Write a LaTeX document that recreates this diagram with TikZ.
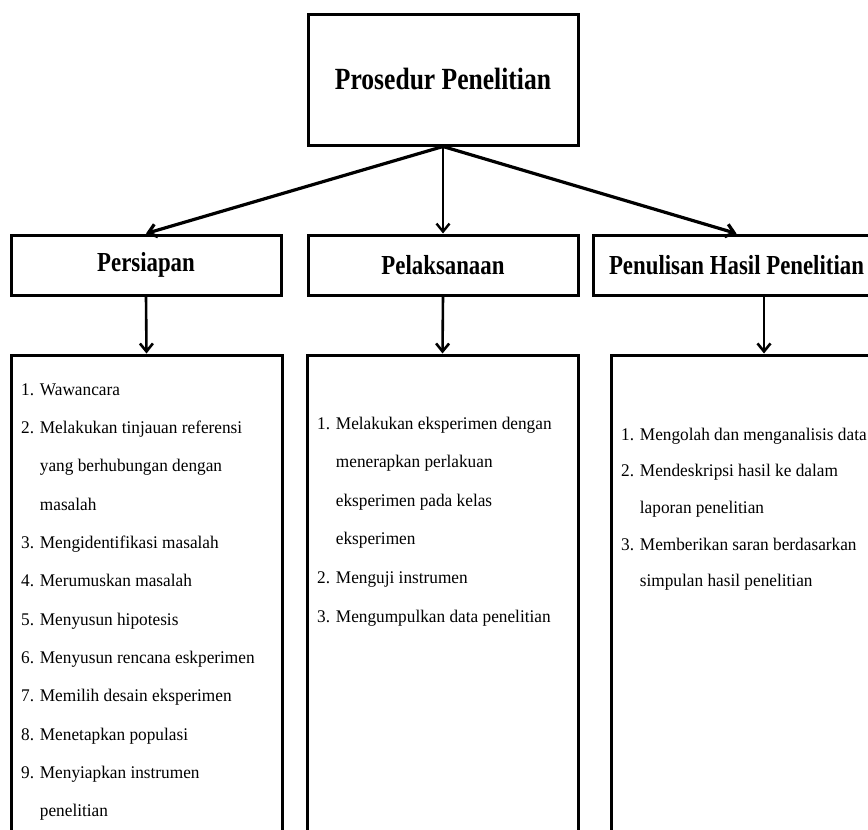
\documentclass[tikz,border=0pt]{standalone}
\usepackage{fontspec}
\setmainfont{Liberation Serif}
\newfontfamily\headfont{Liberation Serif}[FakeStretch=0.83]
\newfontfamily\listfont{Liberation Serif}[FakeStretch=0.97]
\usetikzlibrary{arrows.meta}
\newcommand{\lanjut}{\hphantom{1. }}

\begin{document}
\begin{tikzpicture}[x=1pt, y=-1pt, main/.style = {draw, line width=3pt, inner sep=0pt}, head/.style = {main, minimum width=270, minimum height=60, font=\headfont\bfseries\fontsize{27.5}{30}\selectfont}, item/.style = {anchor=base west, inner sep=0pt, font=\listfont\fontsize{17.8}{20}\selectfont}, arr/.style = {-{Straight Barb[length=8pt,width=13pt]}, line width=2.6pt}]
			\useasboundingbox (0,0) rectangle (868,830);
			\clip (0,0) rectangle (868,830);
			\node[main, minimum width=270, minimum height=131, font=\headfont\bfseries\fontsize{30.8}{34}\selectfont] (1) at (443,79.5) {Prosedur Penelitian};
			\node[head] (2) at (146,265) {Persiapan};
			\node[head] (3) at (443,265) {Pelaksanaan};
			\node[head, minimum width=287] (4) at (736.5,265) {Penulisan Hasil Penelitian};
			\node[main, minimum width=271, minimum height=545] (5) at (146.5,627.5) {};
			\node[main, minimum width=271, minimum height=545] (6) at (442.5,627.5) {};
			\node[main, minimum width=279, minimum height=545] (7) at (750.5,627.5) {};
			\draw[arr, line width=3.2pt] (1.south) -- (2.north);
			\draw[arr, line width=2.4pt] (1.south) -- (3.north);
			\draw[arr, line width=3.2pt] (1.south) -- (4.north);
			\draw[arr] (2.south) -- (5.north);
			\draw[arr] (3.south) -- (6.north);
			\draw[arr] ([xshift=27.5pt]4.south) -- ([xshift=27.5pt]4.south |- 7.north);
			\foreach \t [count=\i from 0] in {1. Wawancara, 2. Melakukan tinjauan referensi, \lanjut yang berhubungan dengan, \lanjut masalah, 3. Mengidentifikasi masalah, 4. Merumuskan masalah, 5. Menyusun hipotesis, 6. Menyusun rencana eskperimen, 7. Memilih desain eksperimen, 8. Menetapkan populasi, 9. Menyiapkan instrumen, \lanjut penelitian}
				\node[item] (a\i) at (21,395+38.35*\i) {\t};
			\foreach \t [count=\i from 0] in {1. Melakukan eksperimen dengan, \lanjut menerapkan perlakuan, \lanjut eksperimen pada kelas, \lanjut eksperimen, 2. Menguji instrumen, 3. Mengumpulkan data penelitian}
				\node[item] (b\i) at (317,429+38.6*\i) {\t};
			\foreach \t [count=\i from 0] in {1. Mengolah dan menganalisis data, 2. Mendeskripsi hasil ke dalam, \lanjut laporan penelitian, 3. Memberikan saran berdasarkan, \lanjut simpulan hasil penelitian}
				\node[item] (c\i) at (621,440+36.7*\i) {\t};
		\end{tikzpicture}
\end{document}
